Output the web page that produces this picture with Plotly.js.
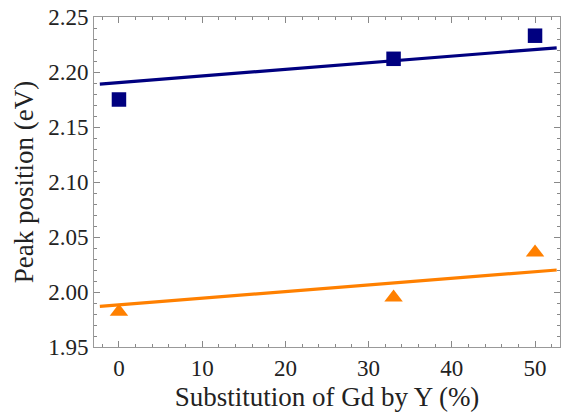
<!DOCTYPE html>
<html>
<head>
<meta charset="utf-8">
<script src="https://cdn.plot.ly/plotly-3.0.1.min.js"></script>
<style>html,body{margin:0;padding:0;background:#fff;}#chart{width:561px;height:415px;}</style>
</head>
<body>
<div id="chart"></div>
<script>
const substitution = [0, 33, 50];
const peakBlue = [2.175, 2.212, 2.233];
const peakOrange = [1.982, 1.995, 2.036];
const fitX = [-2.3, 52.6];
const fitBlue = [2.189, 2.222];
const fitOrange = [1.987, 2.020];

const navy = '#000080';
const orange = '#ff8000';

const traces = [
  {x: fitX, y: fitBlue, mode: 'lines', line: {color: navy, width: 3.2}, hoverinfo: 'skip'},
  {x: fitX, y: fitOrange, mode: 'lines', line: {color: orange, width: 3.2}, hoverinfo: 'skip'},
  {x: substitution, y: peakBlue, mode: 'markers', marker: {symbol: 'square', size: 14.5, color: navy}},
  {x: substitution, y: peakOrange, mode: 'markers', marker: {symbol: 'triangle-up', size: 16, color: orange}}
];

const fam = "'Liberation Serif', 'Times New Roman', serif";
const tickFont = {family: fam, color: '#222', size: 23};
const titleFont = {family: fam, color: '#222', size: 27};

const axisCommon = {
  showgrid: false, zeroline: false,
  showline: true, linecolor: '#999', linewidth: 1, mirror: 'ticks',
  ticks: 'inside', ticklen: 6, tickcolor: '#888', tickwidth: 1,
  tickfont: tickFont
};

const layout = {
  width: 561, height: 415,
  margin: {l: 94, r: 1, t: 17, b: 68},
  paper_bgcolor: '#fff', plot_bgcolor: '#fff',
  showlegend: false,
  font: tickFont,
  xaxis: Object.assign({}, axisCommon, {
    range: [-3, 53], tick0: 0, dtick: 10,
    minor: {dtick: 2, ticks: 'inside', ticklen: 3, tickcolor: '#888'},
    title: {text: 'Substitution of Gd by Y (%)', font: titleFont, standoff: 7}
  }),
  yaxis: Object.assign({}, axisCommon, {
    range: [1.95, 2.25], tick0: 1.95, dtick: 0.05, tickformat: '.2f',
    minor: {dtick: 0.01, ticks: 'inside', ticklen: 3, tickcolor: '#888'},
    title: {text: 'Peak position (eV)', font: titleFont, standoff: 6}
  })
};

Plotly.newPlot('chart', traces, layout, {displayModeBar: false, staticPlot: true});
</script>
</body>
</html>
